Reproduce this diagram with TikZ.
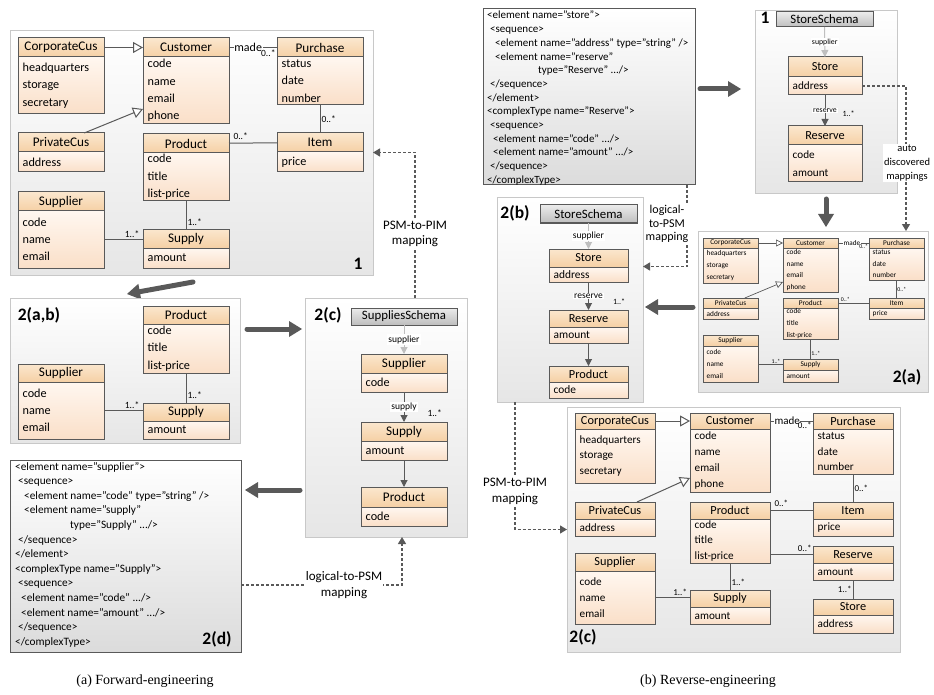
\documentclass[tikz,border=0pt]{standalone}
\usepackage{fontspec}
\setmainfont{Carlito}
\newfontfamily\capfont{Liberation Serif}
\usetikzlibrary{arrows.meta,calc,positioning}

\definecolor{edge}{HTML}{595959}
\definecolor{headtop}{HTML}{FBE7CE}
\definecolor{headbot}{HTML}{F5D0A5}
\definecolor{bodytop}{HTML}{FFF7F0}
\definecolor{bodybot}{HTML}{FADFC8}
\definecolor{paneledge}{HTML}{C8C8C8}
\definecolor{panelbot}{HTML}{E6E6E6}
\definecolor{schematop}{HTML}{EBEBEB}
\definecolor{schemabot}{HTML}{BEBEBE}
\definecolor{lightarr}{HTML}{BFBFBF}

\tikzset{
  panel/.style={draw=paneledge,line width=0.8pt,top color=white,bottom color=panelbot,anchor=north west,inner sep=0pt,outer sep=0pt},
  xmlbox/.style={draw=edge,line width=1pt,top color=white,bottom color=black!14,anchor=north west,inner sep=0pt,outer sep=0pt},
  xmltext/.style={anchor=north west,inner sep=0pt,align=left,font=\fontsize{11.3}{14.6}\selectfont},
  clshead/.style={draw=edge,line width=1pt,top color=headtop,bottom color=headbot,inner sep=0pt,outer sep=0pt,font=\fontsize{13.2}{15}\selectfont},
  clsbody/.style={draw=edge,line width=1pt,top color=bodytop,bottom color=bodybot,inner sep=0pt,outer sep=0pt},
  clsattr/.style={inner xsep=4.5pt,inner ysep=0pt,align=left,font=\fontsize{12.2}{17.3}\selectfont},
  schemabox/.style={draw=edge,line width=1pt,top color=schematop,bottom color=schemabot,anchor=north west,inner sep=0pt,outer sep=0pt,font=\fontsize{12.8}{15}\selectfont},
  tag/.style={font=\fontsize{17.5}{19}\selectfont\bfseries,inner sep=0pt},
  assoc/.style={draw=edge,line width=1pt},
  gen/.style={draw=edge,line width=1pt,-{Triangle[length=10pt,width=11pt,fill=white]}},
  mult/.style={font=\fontsize{9.5}{10}\selectfont,inner sep=1pt},
  rolelbl/.style={font=\fontsize{12}{13}\selectfont,fill=white,inner sep=0.5pt},
  nav/.style={draw=edge,line width=1pt,-{Triangle[length=7pt,width=7pt]}},
  navlight/.style={draw=lightarr,line width=1pt,-{Triangle[length=7pt,width=7pt]}},
  navlbl/.style={font=\fontsize{9.5}{10}\selectfont,fill=white,inner sep=1pt},
  bigarrow/.style={draw=edge,line width=5pt,line cap=round,-{Triangle[length=13pt,width=16pt,line width=0pt]}},
  maparrow/.style={draw=edge,line width=1.3pt,dash pattern=on 3pt off 2pt,-{Triangle[length=7pt,width=8pt]}},
  maplbl/.style={font=\fontsize{13}{15.5}\selectfont,fill=white,align=center,inner sep=1pt},
  caption/.style={font=\capfont\fontsize{14}{16}\selectfont,inner sep=0pt},
}

% #1 name, #2 top left, #3 width, #4 head height, #5 body height, #6 class, #7 attributes
\newcommand{\uclass}[7]{%
  \node[clshead,anchor=north west,minimum width=#3,minimum height=#4] (#1) at #2 {#6};
  \node[clsbody,anchor=north west,minimum width=#3,minimum height=#5] (#1b) at (#1.south west) {};
  \node[clsattr,anchor=west] (#1t) at (#1b.west) {#7};}

\begin{document}
\begin{tikzpicture}[x=1pt,y=-1pt]
\useasboundingbox (0,0) rectangle (934,695);

%%% (a) forward engineering
% 1: PIM
\node[panel,minimum width=363pt,minimum height=245pt] (pim1) at (10,30) {};
\uclass{corp1}{(18,38)}{86pt}{19pt}{57pt}{CorporateCus}{headquarters\\storage\\secretary}
\uclass{cust1}{(143,38)}{86pt}{19pt}{67pt}{Customer}{code\\name\\email\\phone}
\uclass{purch1}{(277,38)}{86pt}{19pt}{48pt}{Purchase}{status\\date\\number}
\uclass{priv1}{(18,133)}{86pt}{19pt}{20pt}{PrivateCus}{address}
\uclass{prod1}{(143,134)}{86pt}{19pt}{48pt}{Product}{code\\title\\list-price}
\uclass{item1}{(277,133)}{86pt}{19pt}{20pt}{Item}{price}
\uclass{supr1}{(18,192)}{86pt}{19pt}{57pt}{Supplier}{code\\name\\email}
\uclass{supy1}{(143,229)}{86pt}{19pt}{20pt}{Supply}{amount}
\draw[gen] (corp1) -- (cust1);
\draw[gen] ($(priv1.north west)!0.77!(priv1.north east)$) -- ($(cust1b.south west)+(0,-15)$);
\draw[assoc] (cust1) -- node[rolelbl,pos=0.4] (made1) {made} node[mult,at end,anchor=north east,yshift=-1pt] (m11) {0..*} (purch1);
\draw[assoc] (purch1b) -- node[mult,midway,right] (m12) {0..*} (item1);
\draw[assoc] (prod1) -- node[mult,at start,anchor=south west,xshift=3pt,yshift=2pt] (m13) {0..*} (item1);
\draw[assoc] (prod1b) -- node[mult,pos=0.75,right] (m14) {1..*} (supy1);
\draw[assoc] (supr1b.east) -- node[mult,pos=0.72,above] (m15) {1..*} (supr1b.east -| supy1.west);
\node[tag] (tag1) at (358,264) {1};

\coordinate (a1s) at (193,282);
\coordinate (a1e) at (127,294);
\draw[bigarrow] (a1s) -- (a1e);

% 2(a,b)
\node[panel,minimum width=230pt,minimum height=145pt] (pimab) at (10,298) {};
\node[tag] (tagab) at (39,315) {2(a,b)};
\uclass{prod2}{(143,306)}{86pt}{18pt}{49pt}{Product}{code\\title\\list-price}
\uclass{supr2}{(18,364)}{86pt}{18pt}{57pt}{Supplier}{code\\name\\email}
\uclass{supy2}{(143,403)}{86pt}{18pt}{18pt}{Supply}{amount}
\draw[assoc] (prod2b) -- node[mult,pos=0.75,right] (m21) {1..*} (supy2);
\draw[assoc] (supr2b.east) -- node[mult,pos=0.72,above] (m22) {1..*} (supr2b.east -| supy2.west);

\coordinate (a2s) at (247,329);
\coordinate (a2e) at (302,329);
\draw[bigarrow] (a2s) -- (a2e);

% 2(c): PSM
\node[panel,minimum width=162pt,minimum height=239pt] (psmc) at (305,298) {};
\node[tag] (tagc) at (328,315) {2(c)};
\node[schemabox,minimum width=106pt,minimum height=17pt] (sch1) at (351,308) {SuppliesSchema};
\uclass{supr3}{(361,354)}{86pt}{19pt}{19pt}{Supplier}{code}
\uclass{supy3}{(361,422)}{86pt}{19pt}{19pt}{Supply}{amount}
\uclass{prod3}{(361,487)}{86pt}{20pt}{19pt}{Product}{code}
\draw[navlight] (sch1) -- node[navlbl] (nl1) {supplier} (supr3);
\draw[nav] (supr3b) -- node[navlbl] (nl2) {supply} node[mult,pos=0.7,right=22pt] (m31) {1..*} (supy3);
\draw[nav] (supy3b) -- (prod3);

\draw[maparrow] ([xshift=29pt]psmc.north) |- node[maplbl,pos=0.22] (ml1) {PSM-to-PIM\\mapping} (pim1.east);

\coordinate (a3s) at (300,490);
\coordinate (a3e) at (245,490);
\draw[bigarrow] (a3s) -- (a3e);

% 2(d): XML schema
\node[xmlbox,minimum width=231pt,minimum height=192pt] (xml2d) at (10,460) {};
\node[xmltext] (xml2dt) at ([xshift=5pt,yshift=-2pt]xml2d.north west) {<element name="supplier">\\
\hspace*{3pt}<sequence>\\
\hspace*{9pt}<element name="code" type="string" />\\
\hspace*{9pt}<element name="supply"\\
\hspace*{55pt}type="Supply" .../>\\
\hspace*{3pt}</sequence>\\
</element>\\
<complexType name="Supply">\\
\hspace*{3pt}<sequence>\\
\hspace*{6pt}<element name="code" .../>\\
\hspace*{6pt}<element name="amount" .../>\\
\hspace*{3pt}</sequence>\\
</complexType>};
\node[tag] (tagd) at (217,639) {2(d)};

\draw[maparrow] ([yshift=-29pt]xml2d.east) -| node[maplbl,pos=0.32] (ml2) {logical-to-PSM\\mapping} ([xshift=16pt]psmc.south);

\node[caption] (capa) at (145,681) {(a) Forward-engineering};

%%% (b) reverse engineering
% XML schema
\node[xmlbox,minimum width=212pt,minimum height=176pt] (xmlr) at (483,9) {};
\node[xmltext,font=\fontsize{11}{13.7}\selectfont] (xmlrt) at ([xshift=4pt,yshift=-2pt]xmlr.north west) {<element name="store">\\
\hspace*{3pt}<sequence>\\
\hspace*{8pt}<element name="address" type="string" />\\
\hspace*{8pt}<element name="reserve"\\
\hspace*{51pt}type="Reserve" .../>\\
\hspace*{3pt}</sequence>\\
</element>\\
<complexType name="Reserve">\\
\hspace*{3pt}<sequence>\\
\hspace*{6pt}<element name="code" .../>\\
\hspace*{6pt}<element name="amount" .../>\\
\hspace*{3pt}</sequence>\\
</complexType>};

\coordinate (b1s) at (700,89);
\coordinate (b1e) at (741,89);
\draw[bigarrow] (b1s) -- (b1e);

% 1: PSM
\begin{scope}[clshead/.append style={font=\fontsize{12.3}{14}\selectfont},
  clsattr/.append style={font=\fontsize{11.2}{18}\selectfont},
  navlbl/.append style={font=\fontsize{7.8}{9}\selectfont},
  mult/.append style={font=\fontsize{8}{9}\selectfont}]
\node[panel,minimum width=142pt,minimum height=183pt] (psm1) at (755,10) {};
\node[tag] (tagr1) at (765,18) {1};
\node[schemabox,minimum width=97pt,minimum height=15pt] (sch2) at (776,12) {StoreSchema};
\uclass{store1}{(788,57)}{74pt}{20pt}{18pt}{Store}{address}
\uclass{resv1}{(788,126)}{74pt}{19pt}{37pt}{Reserve}{code\\amount}
\draw[navlight] (sch2) -- node[navlbl] (nl3) {supplier} (store1);
\draw[nav] (store1b) -- node[navlbl] (nl4) {reserve} node[mult,pos=0.6,right=16pt] (m41) {1..*} (resv1);
\end{scope}

\coordinate (b2s) at (826,199);
\coordinate (b2e) at (826,227);
\draw[bigarrow] (b2s) -- (b2e);

% 2(a): small PIM
\node[panel,minimum width=230pt,minimum height=161pt] (p2a) at (698,231) {};
\begin{scope}[clshead/.append style={font=\fontsize{7.3}{8}\selectfont,line width=0.7pt},
  clsbody/.append style={line width=0.7pt},
  clsattr/.append style={font=\fontsize{7.3}{11.7}\selectfont,inner xsep=3.5pt},
  mult/.append style={font=\fontsize{5.8}{6}\selectfont,inner sep=0.6pt},
  rolelbl/.append style={font=\fontsize{7.2}{8}\selectfont},
  assoc/.append style={line width=0.7pt},
  gen/.append style={line width=0.7pt,-{Triangle[length=7pt,width=7pt,fill=white]}}]
\uclass{corp4}{(703,238)}{55pt}{10pt}{35pt}{CorporateCus}{headquarters\\storage\\secretary}
\uclass{cust4}{(783,238)}{55pt}{10pt}{44pt}{Customer}{code\\name\\email\\phone}
\uclass{purch4}{(869,238)}{55pt}{10pt}{32pt}{Purchase}{status\\date\\number}
\uclass{priv4}{(703,298)}{55pt}{10pt}{11pt}{PrivateCus}{address}
\uclass{prod4}{(783,298)}{55pt}{10pt}{31pt}{Product}{code\\title\\list-price}
\uclass{item4}{(869,298)}{55pt}{10pt}{11pt}{Item}{price}
\uclass{supr4}{(703,335)}{55pt}{11pt}{36pt}{Supplier}{code\\name\\email}
\uclass{supy4}{(783,359)}{55pt}{11pt}{12pt}{Supply}{amount}
\draw[gen] (corp4) -- (cust4);
\draw[gen] ($(priv4.north west)!0.76!(priv4.north east)$) -- ($(cust4b.south west)+(0,-10)$);
\draw[assoc] (cust4) -- node[rolelbl,pos=0.45] (made4) {made} node[mult,at end,anchor=north east] (m51) {0..*} (purch4);
\draw[assoc] (purch4b) -- node[mult,midway,right] (m52) {0..*} (item4);
\draw[assoc] (prod4) -- node[mult,at start,anchor=south west,xshift=2pt,yshift=1pt] (m53) {0..*} (item4);
\draw[assoc] (prod4b) -- node[mult,pos=0.7,right] (m54) {1..*} (supy4);
\draw[assoc] (supr4b.east) -- node[mult,pos=0.72,above] (m55) {1..*} (supr4b.east -| supy4.west);
\end{scope}
\node[tag] (taga) at (907,377) {2(a)};

\draw[maparrow] (store1b.east) -| node[maplbl,pos=0.765,xshift=1pt,font=\fontsize{10.5}{14}\selectfont] (ml3) {auto\\discovered\\mappings} ([xshift=93pt]p2a.north);

% 2(b): PSM
\node[panel,minimum width=146pt,minimum height=205pt] (p2b) at (497,197) {};
\node[tag] (tagb) at (515,213) {2(b)};
\begin{scope}[clshead/.append style={font=\fontsize{12.3}{14}\selectfont},
  clsattr/.append style={font=\fontsize{11.4}{16}\selectfont},
  mult/.append style={font=\fontsize{8}{9}\selectfont}]
\node[schemabox,minimum width=97pt,minimum height=18pt] (sch3) at (540,205) {StoreSchema};
\uclass{store2}{(549,249)}{79pt}{18pt}{15pt}{Store}{address}
\uclass{resv2}{(549,310)}{79pt}{17pt}{16pt}{Reserve}{amount}
\uclass{prod5}{(549,366)}{79pt}{16pt}{16pt}{Product}{code}
\draw[navlight] (sch3) -- node[navlbl] (nl5) {supplier} (store2);
\draw[nav] (store2b) -- node[navlbl] (nl6) {reserve} node[mult,pos=0.7,right=23pt] (m61) {1..*} (resv2);
\draw[nav] (resv2b) -- (prod5);
\end{scope}

\coordinate (b3s) at (693,307);
\coordinate (b3e) at (645,307);
\draw[bigarrow] (b3s) -- (b3e);

\draw[maparrow] ([xshift=98pt]xmlr.south) |- node[maplbl,pos=0.24,xshift=-20pt,font=\fontsize{12}{13.5}\selectfont] (ml4) {logical-\\to-PSM\\mapping} ([yshift=33pt]p2b.east);

% 2(c): PIM
\node[panel,minimum width=333pt,minimum height=245pt] (p2c) at (567,407) {};
\begin{scope}[clshead/.append style={font=\fontsize{12.3}{14}\selectfont},
  clsattr/.append style={font=\fontsize{11.2}{15.8}\selectfont},
  mult/.append style={font=\fontsize{9}{10}\selectfont},
  rolelbl/.append style={font=\fontsize{11}{12}\selectfont}]
\uclass{corp5}{(575,413)}{80pt}{16pt}{54pt}{CorporateCus}{headquarters\\storage\\secretary}
\uclass{cust5}{(690,413)}{80pt}{16pt}{63pt}{Customer}{code\\name\\email\\phone}
\uclass{purch5}{(813,413)}{80pt}{16pt}{45pt}{Purchase}{status\\date\\number}
\uclass{priv5}{(575,502)}{80pt}{17pt}{17pt}{PrivateCus}{address}
\uclass{prod6}{(690,502)}{80pt}{17pt}{44pt}{Product}{code\\title\\list-price}
\uclass{item5}{(813,502)}{80pt}{17pt}{17pt}{Item}{price}
\uclass{supr5}{(575,553)}{80pt}{18pt}{53pt}{Supplier}{code\\name\\email}
\uclass{supy5}{(690,590)}{80pt}{17pt}{17pt}{Supply}{amount}
\uclass{resv5}{(813,546)}{80pt}{17pt}{17pt}{Reserve}{amount}
\uclass{store5}{(813,599)}{80pt}{16pt}{18pt}{Store}{address}
\draw[gen] (corp5) -- (cust5);
\draw[gen] ($(priv5.north west)!0.775!(priv5.north east)$) -- ($(cust5b.south west)+(0,-14)$);
\draw[assoc] (cust5) -- node[rolelbl,pos=0.4] (made5) {made} node[mult,at end,anchor=north east] (m71) {0..*} (purch5);
\draw[assoc] (purch5b) -- node[mult,midway,right] (m72) {0..*} (item5);
\draw[assoc] (prod6) -- node[mult,at start,anchor=south west,xshift=3pt,yshift=2pt] (m73) {0..*} (item5);
\draw[assoc] (resv5.west -| prod6b.east) -- node[mult,at end,anchor=south east,yshift=1pt] (m74) {0..*} (resv5.west);
\draw[assoc] (resv5b) -- node[mult,midway,left] (m75) {1..*} (store5);
\draw[assoc] (prod6b) -- node[mult,pos=0.7,right] (m76) {1..*} (supy5);
\draw[assoc] (supr5b.east) -- node[mult,pos=0.72,above] (m77) {1..*} (supr5b.east -| supy5.west);
\end{scope}
\node[tag] (tagc2) at (583,637) {2(c)};

\draw[maparrow] ([xshift=-55pt]p2b.south) |- node[maplbl,pos=0.35] (ml5) {PSM-to-PIM\\mapping} (p2c.west);

\node[caption] (capb) at (708,681) {(b) Reverse-engineering};
\end{tikzpicture}
\end{document}
